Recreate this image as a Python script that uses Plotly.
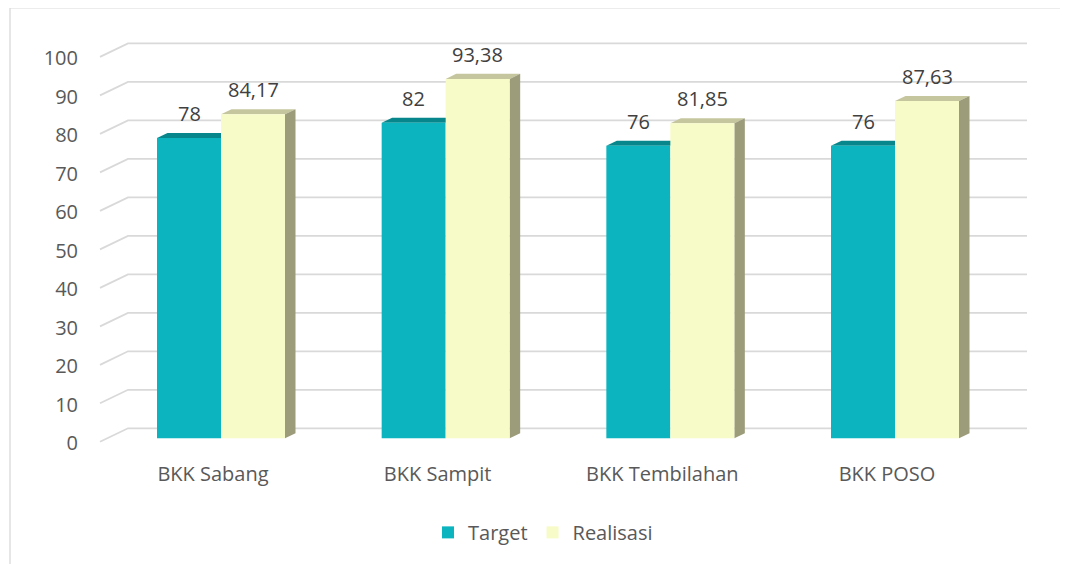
import plotly.graph_objects as go

# ---------------- data ----------------
categories = ["BKK Sabang", "BKK Sampit", "BKK Tembilahan", "BKK POSO"]
target = [78, 82, 76, 76]
realisasi = [84.17, 93.38, 81.85, 87.63]
target_labels = ["78", "82", "76", "76"]
realisasi_labels = ["84,17", "93,38", "81,85", "87,63"]
y_ticks = list(range(0, 101, 10))

# ---------------- geometry (pixels, page coordinates) ----------------
OFF = 8                 # default page body margin
W, H = 1068 - OFF, 564 - OFF
CAT0_PX = 221.0 - OFF   # first category centre
CAT_STEP_PX = 224.67    # distance between categories
ZERO_PX = 438.0 - OFF   # value 0 on bar front plane
UNIT_PX = 3.846         # pixels per value unit
PLOT_L, PLOT_R = 95 - OFF, 1035 - OFF
Y_TOP_VAL, Y_BOT_VAL = 104, -2

x_lo = (PLOT_L - CAT0_PX) / CAT_STEP_PX
x_hi = (PLOT_R - CAT0_PX) / CAT_STEP_PX
top_px = ZERO_PX - Y_TOP_VAL * UNIT_PX
bot_px = ZERO_PX - Y_BOT_VAL * UNIT_PX


def px2x(p):
    return (p - OFF - CAT0_PX) / CAT_STEP_PX


def dx(p):
    return p / CAT_STEP_PX


def dy(p):
    return p / UNIT_PX


BAR_W = 64 / CAT_STEP_PX
DX, DY = dx(10.5), dy(5)

C_T_FRONT = "#0BB4BE"
C_T_TOP = "#07868C"
C_R_FRONT = "#F7FBC7"
C_R_TOP = "#C6C69E"
C_R_SIDE = "#9C9C7B"
GRID = "#D9D9D9"
TXT = "#595959"

xs = list(range(len(categories)))

fig = go.Figure()
fig.add_trace(go.Bar(x=xs, y=target, name="Target", width=BAR_W, offset=-BAR_W,
                     marker=dict(color=C_T_FRONT, line=dict(width=0)),
                     hoverinfo="skip"))
fig.add_trace(go.Bar(x=xs, y=realisasi, name="Realisasi", width=BAR_W, offset=0,
                     marker=dict(color=C_R_FRONT, line=dict(width=0)),
                     hoverinfo="skip"))

shapes = []
# back-wall gridlines with floor diagonal
for v in y_ticks:
    path = (f"M {px2x(100)},{v - dy(3.5)} L {px2x(128)},{v + dy(10)} "
            f"L {px2x(1027)},{v + dy(10)}")
    shapes.append(dict(type="path", path=path, xref="x", yref="y", layer="below",
                       line=dict(color=GRID, width=1.8)))

# 3D faces
for i, (t, r) in enumerate(zip(target, realisasi)):
    l, rr = i - BAR_W, i
    shapes.append(dict(type="path", xref="x", yref="y", layer="below",
                       path=f"M {l},{t} L {rr},{t} L {rr + DX},{t + DY} L {l + DX},{t + DY} Z",
                       fillcolor=C_T_TOP, line=dict(width=0)))
    l, rr = i, i + BAR_W
    shapes.append(dict(type="path", xref="x", yref="y", layer="below",
                       path=f"M {l},{r} L {rr},{r} L {rr + DX},{r + DY} L {l + DX},{r + DY} Z",
                       fillcolor=C_R_TOP, line=dict(width=0)))
    shapes.append(dict(type="path", xref="x", yref="y", layer="below",
                       path=f"M {rr},0 L {rr},{r} L {rr + DX},{r + DY} L {rr + DX},{DY} Z",
                       fillcolor=C_R_SIDE, line=dict(width=0)))

# chart border (left & top visible)
plot_w = PLOT_R - PLOT_L
plot_h = bot_px - top_px
shapes.append(dict(type="rect", xref="paper", yref="paper", layer="below",
                   x0=(10 - OFF - PLOT_L) / plot_w, x1=1.5,
                   y0=-1.0, y1=(bot_px - (8 - OFF)) / plot_h,
                   line=dict(color=GRID, width=1.3), fillcolor="rgba(0,0,0,0)"))

annotations = []
for i, (t, r) in enumerate(zip(target, realisasi)):
    annotations.append(dict(x=i - BAR_W / 2, y=t, xref="x", yref="y", text=target_labels[i],
                            showarrow=False, yshift=24.5, yanchor="middle",
                            font=dict(size=20, color="#404040", family="Open Sans")))
    annotations.append(dict(x=i + BAR_W / 2, y=r, xref="x", yref="y", text=realisasi_labels[i],
                            showarrow=False, yshift=24.5, yanchor="middle",
                            font=dict(size=20, color="#404040", family="Open Sans")))

fig.update_layout(
    width=W, height=H,
    margin=dict(l=PLOT_L, r=W - PLOT_R, t=top_px, b=H - bot_px, pad=0),
    paper_bgcolor="white", plot_bgcolor="white",
    font=dict(family="Open Sans", size=20, color=TXT),
    barmode="group",
    showlegend=True,
    legend=dict(orientation="h", x=(543 - OFF - PLOT_L) / plot_w, xanchor="center",
                y=(bot_px - (532 - OFF)) / plot_h, yanchor="middle",
                itemwidth=30,
                font=dict(size=20, color=TXT), bgcolor="rgba(0,0,0,0)"),
    shapes=shapes,
    annotations=annotations,
    xaxis=dict(range=[x_lo, x_hi], tickvals=xs, ticktext=categories,
               showgrid=False, zeroline=False, showline=False, ticks="",
               ticklabelstandoff=14, ticklabelshift=-8,
               tickfont=dict(size=20, color=TXT), fixedrange=True),
    yaxis=dict(range=[Y_BOT_VAL, Y_TOP_VAL], tickvals=y_ticks,
               showgrid=False, zeroline=False, showline=False, ticks="",
               ticklabelstandoff=16, ticklabelshift=5,
               tickfont=dict(size=20, color=TXT), fixedrange=True),
)

fig.write_html("out.html")
